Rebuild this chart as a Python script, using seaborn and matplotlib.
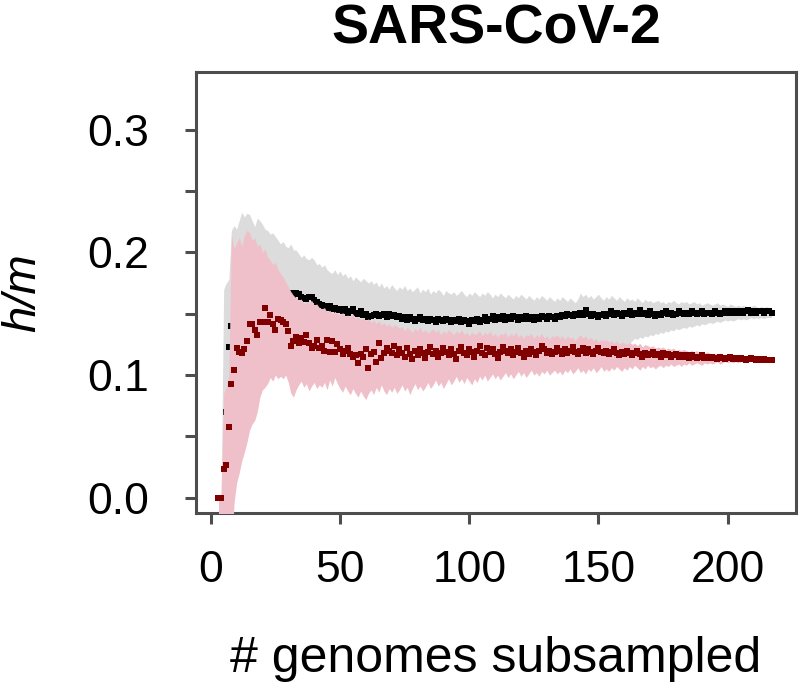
import numpy as np
import matplotlib
matplotlib.use("Agg")
import matplotlib.pyplot as plt
import seaborn as sns

# genomes subsampled (x), one point per subsample size
n_genomes = np.arange(3, 218)

# black points: h/m, with grey band
black_pts = [
    0.000, 0.000, 0.000, 0.070, 0.123, 0.140, 0.142, 0.150, 0.155, 0.158,
    0.162, 0.165, 0.168, 0.170, 0.172, 0.170, 0.171, 0.173, 0.172, 0.170,
    0.171, 0.169, 0.170, 0.168, 0.169, 0.167, 0.168, 0.166, 0.167, 0.165,
    0.167, 0.166, 0.164, 0.163, 0.162, 0.164, 0.164, 0.161, 0.160, 0.158,
    0.157, 0.156, 0.155, 0.156, 0.154, 0.155, 0.153, 0.154, 0.152, 0.154,
    0.151, 0.152, 0.154, 0.151, 0.150, 0.152, 0.149, 0.150, 0.147, 0.148,
    0.149, 0.150, 0.148, 0.149, 0.150, 0.147, 0.150, 0.148, 0.149, 0.147,
    0.148, 0.146, 0.147, 0.145, 0.147, 0.146, 0.144, 0.146, 0.147, 0.145,
    0.146, 0.144, 0.146, 0.145, 0.143, 0.146, 0.145, 0.144, 0.146, 0.145,
    0.143, 0.145, 0.144, 0.146, 0.143, 0.145, 0.144, 0.142, 0.145, 0.144,
    0.146, 0.143, 0.145, 0.147, 0.144, 0.146, 0.148, 0.145, 0.147, 0.146,
    0.148, 0.145, 0.147, 0.146, 0.148, 0.147, 0.145, 0.147, 0.146, 0.148,
    0.146, 0.147, 0.145, 0.147, 0.146, 0.148, 0.147, 0.146, 0.148, 0.147,
    0.146, 0.148, 0.147, 0.149, 0.148, 0.150, 0.149, 0.148, 0.150, 0.149,
    0.151, 0.149, 0.153, 0.150, 0.148, 0.150, 0.149, 0.147, 0.149, 0.150,
    0.148, 0.150, 0.152, 0.149, 0.151, 0.150, 0.148, 0.151, 0.150, 0.152,
    0.149, 0.151, 0.150, 0.153, 0.150, 0.151, 0.149, 0.152, 0.150, 0.148,
    0.150, 0.149, 0.151, 0.152, 0.150, 0.151, 0.149, 0.150, 0.152, 0.151,
    0.150, 0.151, 0.150, 0.152, 0.151, 0.150, 0.151, 0.152, 0.150, 0.151,
    0.151, 0.150, 0.152, 0.151, 0.150, 0.151, 0.152, 0.151, 0.152, 0.151,
    0.152, 0.151, 0.152, 0.151, 0.152, 0.153, 0.151, 0.152, 0.151, 0.152,
    0.152, 0.151, 0.152, 0.152, 0.151,
]
grey_hi = [
    0.000, 0.000, 0.170, 0.175, 0.178, 0.218, 0.222, 0.219, 0.226, 0.233,
    0.229, 0.232, 0.231, 0.226, 0.221, 0.228, 0.226, 0.223, 0.219, 0.218,
    0.215, 0.216, 0.213, 0.210, 0.207, 0.209, 0.205, 0.204, 0.207, 0.202,
    0.202, 0.199, 0.196, 0.198, 0.195, 0.194, 0.196, 0.194, 0.190, 0.191,
    0.188, 0.190, 0.186, 0.184, 0.183, 0.186, 0.182, 0.185, 0.181, 0.183,
    0.179, 0.181, 0.177, 0.180, 0.178, 0.176, 0.179, 0.177, 0.175, 0.177,
    0.174, 0.176, 0.172, 0.175, 0.171, 0.173, 0.170, 0.174, 0.171, 0.169,
    0.172, 0.170, 0.173, 0.169, 0.171, 0.168, 0.170, 0.172, 0.167, 0.170,
    0.168, 0.171, 0.166, 0.169, 0.167, 0.170, 0.168, 0.165, 0.169, 0.167,
    0.166, 0.168, 0.165, 0.167, 0.169, 0.166, 0.164, 0.167, 0.165, 0.168,
    0.166, 0.164, 0.167, 0.165, 0.168, 0.166, 0.163, 0.166, 0.164, 0.167,
    0.165, 0.163, 0.166, 0.164, 0.162, 0.165, 0.163, 0.166, 0.164, 0.162,
    0.165, 0.163, 0.161, 0.164, 0.162, 0.165, 0.163, 0.161, 0.164, 0.162,
    0.160, 0.163, 0.161, 0.164, 0.162, 0.160, 0.163, 0.161, 0.159, 0.162,
    0.167, 0.164, 0.166, 0.163, 0.165, 0.162, 0.164, 0.166, 0.163, 0.161,
    0.164, 0.162, 0.165, 0.163, 0.161, 0.164, 0.162, 0.160, 0.163, 0.161,
    0.162, 0.160, 0.163, 0.161, 0.159, 0.162, 0.160, 0.161, 0.159, 0.160,
    0.161, 0.159, 0.160, 0.158, 0.160, 0.159, 0.161, 0.159, 0.158, 0.160,
    0.159, 0.160, 0.158, 0.159, 0.160, 0.158, 0.159, 0.157, 0.158, 0.159,
    0.158, 0.157, 0.158, 0.159, 0.157, 0.158, 0.157, 0.156, 0.158, 0.157,
    0.156, 0.157, 0.156, 0.157, 0.156, 0.155, 0.156, 0.157, 0.156, 0.155,
    0.156, 0.155, 0.156, 0.155, 0.155,
]
grey_lo = [
    0.000, 0.000, 0.000, 0.000, 0.000, 0.060, 0.080, 0.095, 0.100, 0.105,
    0.110, 0.115, 0.118, 0.120, 0.122, 0.121, 0.123, 0.124, 0.123, 0.125,
    0.124, 0.125, 0.124, 0.126, 0.125, 0.126, 0.125, 0.126, 0.125, 0.126,
    0.126, 0.125, 0.127, 0.126, 0.125, 0.127, 0.126, 0.125, 0.126, 0.127,
    0.126, 0.125, 0.127, 0.126, 0.125, 0.126, 0.127, 0.125, 0.126, 0.125,
    0.126, 0.125, 0.126, 0.124, 0.125, 0.126, 0.124, 0.125, 0.126, 0.125,
    0.124, 0.125, 0.126, 0.124, 0.125, 0.126, 0.125, 0.124, 0.125, 0.126,
    0.125, 0.124, 0.126, 0.125, 0.124, 0.125, 0.126, 0.124, 0.125, 0.124,
    0.125, 0.126, 0.124, 0.125, 0.124, 0.126, 0.125, 0.124, 0.125, 0.126,
    0.124, 0.125, 0.124, 0.126, 0.125, 0.124, 0.125, 0.124, 0.126, 0.125,
    0.124, 0.125, 0.126, 0.124, 0.125, 0.124, 0.125, 0.126, 0.124, 0.125,
    0.124, 0.126, 0.125, 0.124, 0.125, 0.124, 0.126, 0.125, 0.124, 0.125,
    0.124, 0.125, 0.124, 0.126, 0.125, 0.124, 0.125, 0.124, 0.125, 0.124,
    0.125, 0.124, 0.125, 0.124, 0.125, 0.124, 0.125, 0.124, 0.124, 0.125,
    0.124, 0.125, 0.124, 0.125, 0.124, 0.124, 0.125, 0.124, 0.124, 0.125,
    0.124, 0.125, 0.124, 0.125, 0.124, 0.123, 0.124, 0.125, 0.124, 0.126,
    0.128, 0.130, 0.129, 0.131, 0.130, 0.132, 0.131, 0.133, 0.132, 0.134,
    0.133, 0.135, 0.134, 0.136, 0.135, 0.137, 0.136, 0.138, 0.137, 0.138,
    0.139, 0.138, 0.140, 0.139, 0.140, 0.141, 0.140, 0.142, 0.141, 0.142,
    0.143, 0.142, 0.143, 0.144, 0.143, 0.144, 0.145, 0.144, 0.145, 0.144,
    0.145, 0.146, 0.145, 0.146, 0.145, 0.146, 0.147, 0.146, 0.147, 0.146,
    0.147, 0.146, 0.147, 0.147, 0.147,
]

# dark red points: h/m, with pink band
red_pts = [
    0.000, 0.000, 0.023, 0.027, 0.058, 0.093, 0.104, 0.122, 0.119, 0.118,
    0.121, 0.128, 0.142, 0.142, 0.137, 0.133, 0.143, 0.143, 0.155, 0.143,
    0.149, 0.142, 0.137, 0.146, 0.145, 0.143, 0.142, 0.136, 0.124, 0.128,
    0.131, 0.126, 0.130, 0.127, 0.133, 0.126, 0.122, 0.124, 0.129, 0.122,
    0.124, 0.120, 0.129, 0.119, 0.128, 0.119, 0.125, 0.121, 0.117, 0.120,
    0.122, 0.117, 0.115, 0.116, 0.110, 0.117, 0.115, 0.121, 0.106, 0.117,
    0.119, 0.111, 0.126, 0.114, 0.118, 0.122, 0.120, 0.118, 0.124, 0.116,
    0.121, 0.118, 0.115, 0.122, 0.117, 0.113, 0.120, 0.116, 0.121, 0.118,
    0.114, 0.119, 0.123, 0.117, 0.120, 0.115, 0.118, 0.122, 0.119, 0.116,
    0.121, 0.117, 0.113, 0.120, 0.123, 0.118, 0.116, 0.121, 0.119, 0.115,
    0.120, 0.124, 0.118, 0.116, 0.122, 0.119, 0.121, 0.117, 0.114, 0.119,
    0.123, 0.120, 0.118, 0.121, 0.116, 0.119, 0.122, 0.118, 0.115, 0.120,
    0.117, 0.121, 0.119, 0.116, 0.120, 0.124, 0.121, 0.118, 0.120, 0.117,
    0.119, 0.122, 0.120, 0.117, 0.121, 0.118, 0.120, 0.123, 0.119, 0.117,
    0.120, 0.122, 0.118, 0.121, 0.119, 0.117, 0.120, 0.122, 0.119, 0.118,
    0.120, 0.117, 0.119, 0.121, 0.118, 0.116, 0.119, 0.117, 0.120, 0.118,
    0.116, 0.118, 0.120, 0.117, 0.115, 0.118, 0.116, 0.117, 0.119, 0.116,
    0.117, 0.115, 0.118, 0.116, 0.117, 0.115, 0.116, 0.117, 0.115, 0.116,
    0.115, 0.116, 0.114, 0.116, 0.115, 0.114, 0.115, 0.116, 0.114, 0.115,
    0.114, 0.115, 0.114, 0.113, 0.115, 0.114, 0.113, 0.114, 0.115, 0.113,
    0.114, 0.113, 0.114, 0.113, 0.112, 0.113, 0.114, 0.113, 0.112, 0.113,
    0.112, 0.113, 0.112, 0.112, 0.112,
]
pink_hi = [
    0.000, 0.000, 0.085, 0.090, 0.100, 0.215, 0.203, 0.208, 0.212, 0.205,
    0.214, 0.218, 0.216, 0.210, 0.212, 0.205, 0.207, 0.200, 0.203, 0.196,
    0.194, 0.190, 0.192, 0.186, 0.183, 0.180, 0.176, 0.172, 0.168, 0.165,
    0.163, 0.161, 0.162, 0.158, 0.160, 0.159, 0.161, 0.157, 0.158, 0.155,
    0.154, 0.155, 0.151, 0.153, 0.150, 0.152, 0.150, 0.149, 0.151, 0.148,
    0.149, 0.147, 0.150, 0.146, 0.148, 0.145, 0.147, 0.144, 0.146, 0.143,
    0.145, 0.142, 0.144, 0.141, 0.143, 0.140, 0.142, 0.139, 0.141, 0.140,
    0.138, 0.140, 0.136, 0.139, 0.137, 0.135, 0.138, 0.136, 0.139, 0.135,
    0.137, 0.134, 0.136, 0.138, 0.135, 0.137, 0.133, 0.136, 0.134, 0.137,
    0.135, 0.133, 0.136, 0.134, 0.137, 0.133, 0.135, 0.132, 0.135, 0.133,
    0.134, 0.136, 0.132, 0.135, 0.133, 0.136, 0.132, 0.134, 0.131, 0.134,
    0.133, 0.135, 0.131, 0.134, 0.132, 0.135, 0.131, 0.133, 0.130, 0.133,
    0.132, 0.134, 0.130, 0.133, 0.131, 0.134, 0.130, 0.132, 0.129, 0.132,
    0.131, 0.133, 0.130, 0.132, 0.129, 0.132, 0.130, 0.131, 0.128, 0.131,
    0.133, 0.130, 0.132, 0.129, 0.131, 0.128, 0.130, 0.127, 0.129, 0.128,
    0.129, 0.127, 0.128, 0.126, 0.128, 0.125, 0.127, 0.126, 0.125, 0.127,
    0.125, 0.126, 0.124, 0.126, 0.123, 0.125, 0.124, 0.123, 0.124, 0.122,
    0.123, 0.122, 0.123, 0.121, 0.122, 0.121, 0.122, 0.120, 0.121, 0.120,
    0.121, 0.120, 0.119, 0.120, 0.119, 0.120, 0.118, 0.119, 0.118, 0.119,
    0.118, 0.117, 0.118, 0.117, 0.118, 0.117, 0.116, 0.117, 0.116, 0.117,
    0.116, 0.115, 0.116, 0.115, 0.116, 0.115, 0.115, 0.114, 0.115, 0.114,
    0.114, 0.114, 0.113, 0.114, 0.113,
]
pink_lo = [
    -0.050, -0.050, -0.050, -0.050, -0.050, -0.050, -0.005, 0.012, 0.020, 0.030,
    0.037, 0.045, 0.055, 0.060, 0.063, 0.070, 0.082, 0.088, 0.090, 0.093,
    0.098, 0.095, 0.100, 0.097, 0.099, 0.097, 0.100, 0.094, 0.085, 0.082,
    0.088, 0.092, 0.095, 0.090, 0.093, 0.087, 0.091, 0.094, 0.089, 0.092,
    0.090, 0.094, 0.088, 0.096, 0.091, 0.098, 0.093, 0.089, 0.086, 0.091,
    0.087, 0.084, 0.089, 0.085, 0.082, 0.087, 0.083, 0.080, 0.085, 0.088,
    0.084, 0.090, 0.086, 0.092, 0.087, 0.084, 0.089, 0.086, 0.090, 0.085,
    0.088, 0.092, 0.087, 0.090, 0.084, 0.089, 0.093, 0.088, 0.091, 0.087,
    0.090, 0.094, 0.089, 0.092, 0.096, 0.091, 0.094, 0.089, 0.093, 0.097,
    0.092, 0.095, 0.099, 0.094, 0.097, 0.093, 0.098, 0.095, 0.092, 0.097,
    0.094, 0.099, 0.096, 0.100, 0.095, 0.098, 0.101, 0.097, 0.100, 0.096,
    0.099, 0.102, 0.098, 0.101, 0.097, 0.100, 0.103, 0.099, 0.102, 0.098,
    0.101, 0.104, 0.100, 0.102, 0.099, 0.103, 0.101, 0.104, 0.100, 0.102,
    0.104, 0.101, 0.103, 0.100, 0.104, 0.102, 0.105, 0.101, 0.103, 0.106,
    0.102, 0.104, 0.101, 0.105, 0.103, 0.106, 0.102, 0.104, 0.107, 0.103,
    0.105, 0.103, 0.106, 0.104, 0.107, 0.105, 0.103, 0.106, 0.104, 0.107,
    0.105, 0.108, 0.106, 0.104, 0.107, 0.105, 0.108, 0.106, 0.107, 0.105,
    0.107, 0.108, 0.106, 0.108, 0.107, 0.109, 0.107, 0.108, 0.109, 0.107,
    0.109, 0.108, 0.110, 0.108, 0.109, 0.110, 0.109, 0.108, 0.110, 0.109,
    0.110, 0.109, 0.110, 0.111, 0.109, 0.110, 0.111, 0.110, 0.111, 0.110,
    0.111, 0.110, 0.111, 0.111, 0.110, 0.111, 0.112, 0.111, 0.111, 0.112,
    0.111, 0.111, 0.112, 0.111, 0.111,
]

x_ticks = [0, 50, 100, 150, 200]
y_ticks = [0.0, 0.05, 0.1, 0.15, 0.2, 0.25, 0.3]
y_ticklabels = ["0.0", "", "0.1", "", "0.2", "", "0.3"]

AXIS_GREY = "#4d4d4d"

sns.set_style("white")
plt.rcParams["font.family"] = ["Liberation Sans", "DejaVu Sans"]
plt.rcParams["text.color"] = "black"
plt.rcParams["axes.labelcolor"] = "black"

fig = plt.figure(figsize=(8, 6.88), dpi=100)
ax = fig.add_axes([0.245, 0.2544, 0.750, 0.6414])

# grey band, black points, then pink band on top, then red points
ax.fill_between(n_genomes, grey_lo, grey_hi, color="#dcdcdc", lw=0, zorder=1)
sns.scatterplot(x=n_genomes, y=black_pts, marker="s", s=18, color="black",
                linewidth=0, ax=ax, zorder=2)
ax.fill_between(n_genomes, pink_lo, pink_hi, color="#f0c0ca", lw=0, zorder=3)
sns.scatterplot(x=n_genomes, y=red_pts, marker="s", s=18, color="#800000",
                linewidth=0, ax=ax, zorder=4)

ax.set_xlim(-5.7, 226.4)
ax.set_ylim(-0.0125, 0.3475)
ax.set_xticks(x_ticks)
ax.set_xticklabels([str(t) for t in x_ticks])
ax.set_yticks(y_ticks)
ax.set_yticklabels(y_ticklabels)

for side in ["left", "right", "top", "bottom"]:
    ax.spines[side].set_visible(True)
    ax.spines[side].set_color(AXIS_GREY)
    ax.spines[side].set_linewidth(2.2)

ax.tick_params(axis="both", which="major", direction="out", length=8,
               width=2.2, color=AXIS_GREY, labelcolor="black", labelsize=32,
               bottom=True, left=True, top=False, right=False)
ax.tick_params(axis="x", pad=19)
ax.tick_params(axis="y", pad=26)

ax.set_xlabel("# genomes subsampled", fontsize=36, labelpad=32, color="black")
ax.set_ylabel("h/m", fontsize=34, fontstyle="italic", labelpad=30, color="black")
ax.set_title("SARS-CoV-2", fontsize=40, fontweight="bold", pad=20, color="black")

fig.savefig("out.png", dpi=100)
